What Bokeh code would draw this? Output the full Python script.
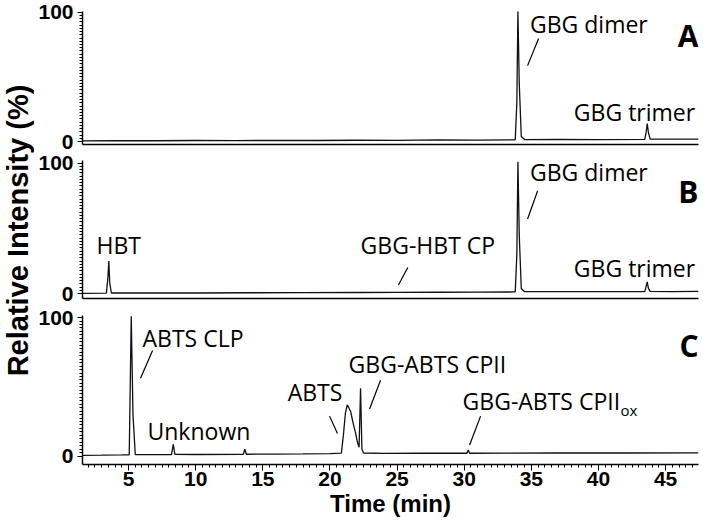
import math
from bokeh.plotting import figure
from bokeh.layouts import column, row
from bokeh.models import Range1d, FixedTicker, SingleIntervalTicker
from bokeh.core.properties import value
from bokeh.embed import file_html
from bokeh.resources import INLINE

# ---------------- data ----------------
time_A = [1.57, 4, 7, 10, 13, 16, 19, 22, 25, 28, 31, 33.8, 33.92, 34.0, 34.1, 34.25, 34.5,
          37, 40, 43.45, 43.56, 43.63, 43.72, 43.85, 45.5, 47.45]
int_A = [0.6, 0.8, 0.7, 0.9, 0.8, 1.0, 0.9, 1.1, 1.0, 1.3, 1.2, 1.4, 30, 101, 45, 4, 1.6,
         1.7, 1.6, 1.8, 8, 14, 7, 2.0, 1.9, 2.0]

time_B = [1.57, 3.35, 3.46, 3.53, 3.6, 3.72, 6, 10, 14, 18, 22, 25, 28, 31, 33.8, 33.92,
          34.0, 34.1, 34.25, 34.5, 37, 40, 43.45, 43.56, 43.63, 43.72, 43.85, 45.5, 47.45]
int_B = [0.3, 0.4, 12, 25, 8, 0.5, 0.6, 0.5, 0.7, 0.8, 0.9, 1.0, 1.1, 1.2, 1.3, 30,
         101, 45, 4, 1.5, 1.5, 1.6, 1.6, 6, 9, 4, 1.7, 1.6, 1.7]

time_C = [1.57, 3, 4.5, 5.05, 5.2, 5.33, 5.5, 7, 8.2, 8.33, 8.45, 10, 13.55, 13.66, 13.77,
          16, 18, 20.0, 20.85, 21.0, 21.15, 21.29, 21.4, 21.55, 21.7, 21.9, 22.05, 22.17,
          22.28, 22.38, 22.5, 24, 27, 30.2, 30.3, 30.4, 33, 37, 42, 47.45]
int_C = [0.6, 0.7, 0.9, 1.0, 101, 30, 1.2, 1.1, 1.2, 8.5, 1.3, 1.2, 1.4, 5, 1.4,
         1.5, 1.6, 1.8, 2.2, 15, 31, 37, 35, 32, 25, 17, 10, 6.5,
         49, 5, 2.3, 2.0, 2.1, 2.1, 4.5, 2.1, 2.2, 2.3, 2.3, 2.4]

# annotations: (text, x, y, align)
labels_A = [("GBG dimer", 34.9, 91, "left"), ("GBG trimer", 47.2, 23, "right")]
leaders_A = [(35.54, 79.7, 34.72, 58.7)]
labels_B = [("HBT", 2.61, 37, "left"), ("GBG-HBT CP", 32.3, 37, "right"),
            ("GBG dimer", 34.9, 93, "left"), ("GBG trimer", 47.2, 19.3, "right")]
leaders_B = [(25.8, 20, 25.1, 6.7), (35.47, 78.8, 34.72, 57.2)]
labels_C = [("ABTS CLP", 6.04, 85, "left"), ("Unknown", 6.41, 18.5, "left"),
            ("ABTS", 16.85, 46, "left"), ("GBG-ABTS CPII", 21.39, 66.7, "left"),
            ("GBG-ABTS CPII", 29.88, 40, "left")]
sub_C = [("ox", 29.88, 33.5)]
leaders_C = [(6.79, 76.3, 5.89, 56.3), (19.97, 28.9, 20.56, 16.3),
             (23.77, 54.8, 22.95, 34.1), (31.22, 28.9, 30.4, 8.1)]
panel_letters = [("A", 82), ("B", 78), ("C", 80)]

x_tick_interval = 5
y_major = [0, 100]
y_title = "Relative Intensity (%)"
x_title = "Time (min)"

# ---------------- styling ----------------
X_RANGE = Range1d(1.57, 47.45)
TITLE_W = 34
W = 666
ANN_FONT = "Open Sans"
AX_FONT = "Liberation Sans"


def make_panel(t, y, yr, height, top, bottom, labels, leaders, letter, show_x):
    p = figure(width=W, height=height, x_range=X_RANGE, y_range=Range1d(*yr),
               output_backend="svg", toolbar_location=None,
               min_border_top=top, min_border_bottom=bottom,
               min_border_left=48, min_border_right=2)
    p.outline_line_color = None
    p.xgrid.visible = False
    p.ygrid.visible = False
    p.background_fill_color = "white"
    p.border_fill_color = "white"

    ya = p.yaxis[0]
    ya.ticker = FixedTicker(ticks=y_major, minor_ticks=[k * 2.5 for k in range(41)])
    ya.axis_line_color = "black"
    ya.axis_line_width = 1.5
    ya.major_tick_line_color = "black"
    ya.minor_tick_line_color = "black"
    ya.major_tick_in = 0
    ya.major_tick_out = 5
    ya.minor_tick_in = 0
    ya.minor_tick_out = 3
    ya.major_label_standoff = 4
    ya.major_label_text_font = AX_FONT
    ya.major_label_text_font_style = "bold"
    ya.major_label_text_font_size = "21px"
    ya.major_label_text_color = "black"

    xa = p.xaxis[0]
    xa.axis_line_color = "black"
    xa.axis_line_width = 1.5
    if show_x:
        xa.ticker = SingleIntervalTicker(interval=x_tick_interval, num_minor_ticks=10)
        xa.major_tick_line_color = "black"
        xa.minor_tick_line_color = "black"
        xa.major_tick_in = 0
        xa.major_tick_out = 6
        xa.minor_tick_in = 0
        xa.minor_tick_out = 3
        xa.major_label_standoff = 1
        xa.major_label_text_font = AX_FONT
        xa.major_label_text_font_style = "bold"
        xa.major_label_text_font_size = "21px"
        xa.major_label_text_color = "black"
        xa.axis_label = x_title
        xa.axis_label_text_font = AX_FONT
        xa.axis_label_text_font_style = "bold"
        xa.axis_label_text_font_size = "24px"
        xa.axis_label_text_color = "black"
        xa.axis_label_standoff = 1
    else:
        xa.ticker = FixedTicker(ticks=[], minor_ticks=[])
        xa.major_tick_line_color = None
        xa.minor_tick_line_color = None
        xa.major_tick_in = 0
        xa.major_tick_out = 0
        xa.minor_tick_in = 0
        xa.minor_tick_out = 0
        xa.major_label_standoff = 0

    p.line(t, y, line_color="#111111", line_width=1.3)

    if leaders:
        p.segment(x0=[l[0] for l in leaders], y0=[l[1] for l in leaders],
                  x1=[l[2] for l in leaders], y1=[l[3] for l in leaders],
                  line_color="black", line_width=1.2)
    for txt, lx, ly, al in labels:
        p.text(x=[lx], y=[ly], text=[txt], text_align=al, text_baseline="middle",
               text_font=value(ANN_FONT), text_font_size="23px", text_color="black")
    p.text(x=[47.45], y=[letter[1]], text=[letter[0]], text_align="right",
           text_baseline="middle", text_font=value(ANN_FONT),
           text_font_style="bold", text_font_size="30px", text_color="black")
    return p


H_A, H_B, H_C = 152, 154, 216
pA = make_panel(time_A, int_A, (-2.2, 100.5), H_A, 11, 8, labels_A, leaders_A,
                panel_letters[0], False)
pB = make_panel(time_B, int_B, (-3.7, 102), H_B, 8, 8, labels_B, leaders_B,
                panel_letters[1], False)
pC = make_panel(time_C, int_C, (-6, 101.5), H_C, 9, 58, labels_C, leaders_C,
                panel_letters[2], True)
for txt, sx, sy in sub_C:
    pC.text(x=[sx], y=[sy], text=[txt], x_offset=158, text_align="left",
            text_baseline="middle", text_font=value(ANN_FONT),
            text_font_size="15px", text_color="black")

# y-axis title as a narrow strip spanning all three panels
H_ALL = H_A + H_B + H_C
pt = figure(width=TITLE_W, height=H_ALL, x_range=Range1d(0, 1), y_range=Range1d(0, H_ALL),
            output_backend="svg", toolbar_location=None,
            min_border_left=0, min_border_right=0, min_border_top=0, min_border_bottom=0)
pt.axis.visible = False
pt.grid.visible = False
pt.outline_line_color = None
pt.text(x=[0.5], y=[H_ALL - 230], text=[y_title], angle=math.pi / 2,
        text_align="center", text_baseline="middle", text_font=value(AX_FONT),
        text_font_style="bold", text_font_size="29px", text_color="black")

layout = row(pt, column(pA, pB, pC, spacing=0), spacing=0)
open("out.html", "w").write(file_html(layout, INLINE))
